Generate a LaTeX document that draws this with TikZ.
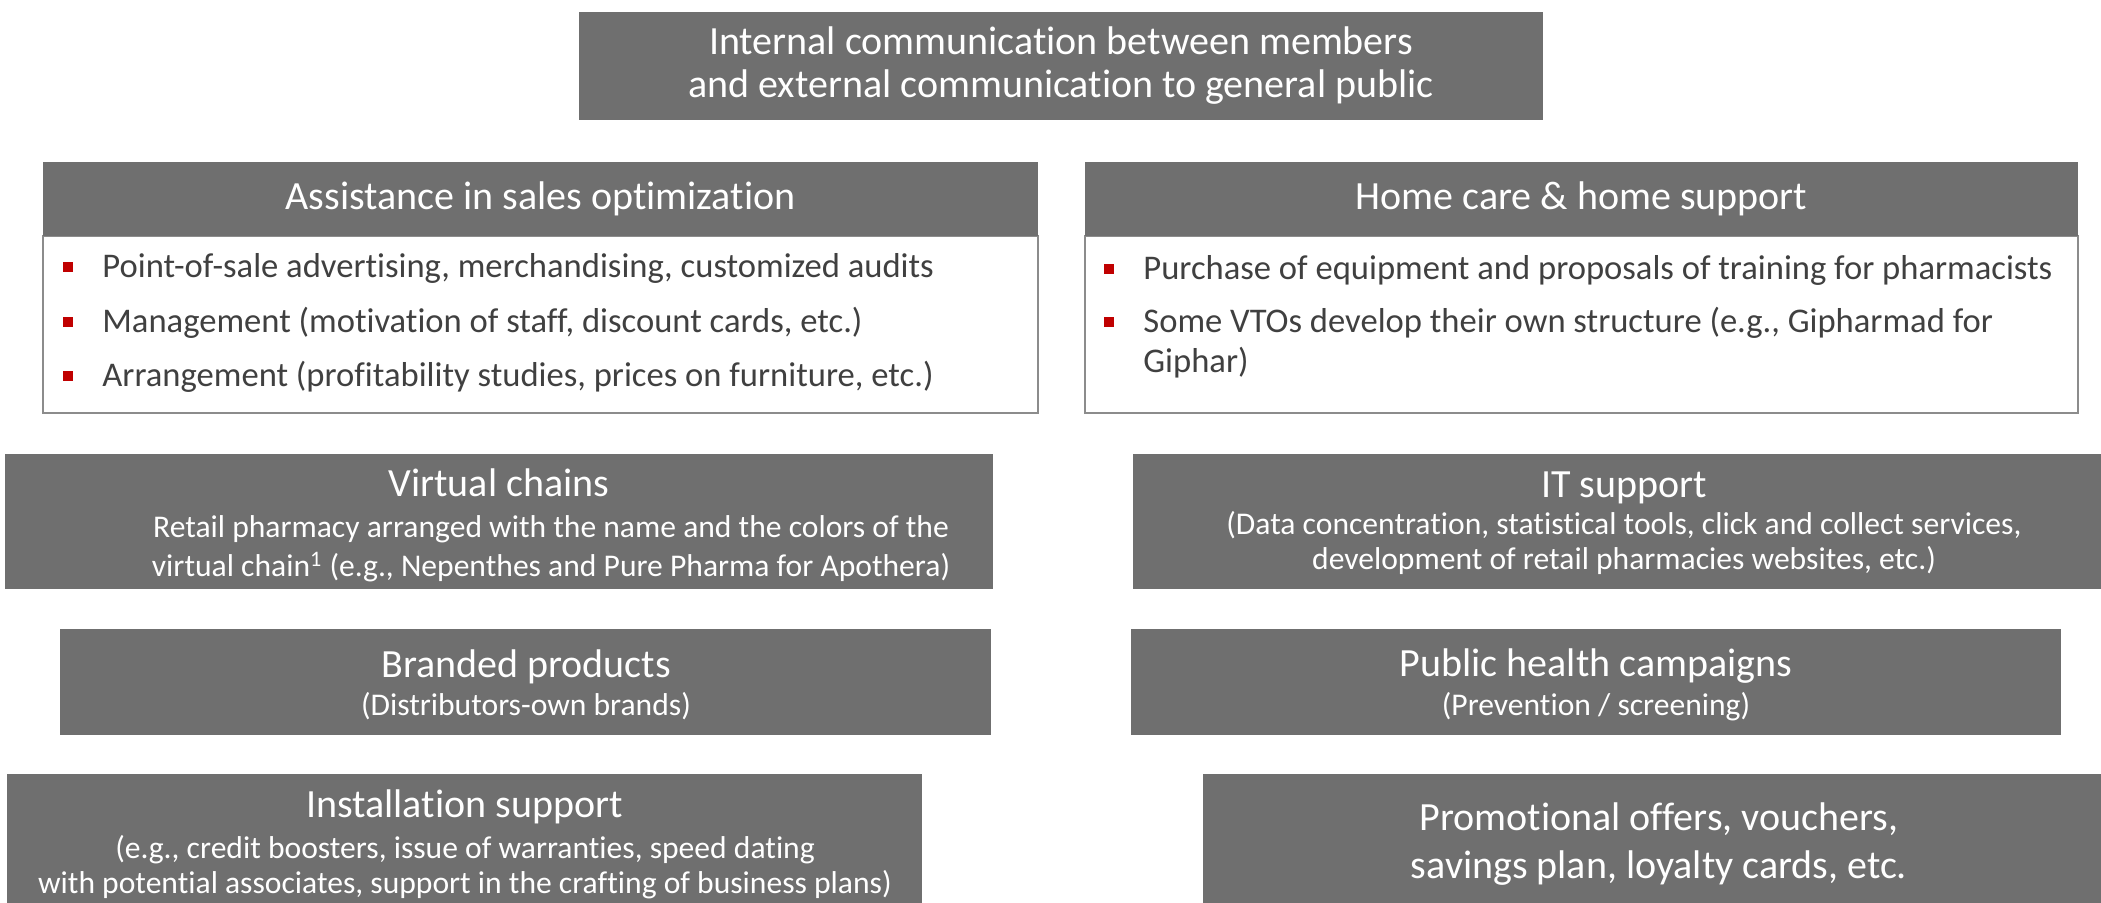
\documentclass[tikz,border=0pt]{standalone}
\usepackage{fontspec}
\setmainfont{Carlito}[Ligatures=NoCommon]
\usetikzlibrary{positioning,calc}
\definecolor{boxgray}{HTML}{6F6F6F}
\definecolor{bulletred}{HTML}{C00000}
\definecolor{bodytext}{HTML}{404040}
\definecolor{edgegray}{HTML}{8C8C8C}
\newcommand*{\fsz}[2]{\fontsize{#1}{#2}\selectfont}
\tikzset{
  darkbox/.style={fill=boxgray,inner sep=0pt},
  listbox/.style={draw=edgegray,line width=0.7pt,fill=white,inner sep=0pt},
  headtext/.style={text=white,font=\fsz{20}{21.5},anchor=base,inner sep=0pt,align=center},
  subtext/.style={text=white,anchor=base,inner sep=0pt,align=center,font=\fsz{15.8}{17.5}},
  itemtext/.style={text=bodytext,font=\fsz{17.3}{20},anchor=base west,inner sep=0pt,align=left},
}

\begin{document}
\begin{tikzpicture}[x=0.5pt,y=-0.5pt]
\useasboundingbox (0,0) rectangle (2101,903);

% communication (multi-line nodes sit on their last baseline)
\node[darkbox,minimum width=482pt,minimum height=54pt] (comm) at (1061,66) {};
\node[headtext] (commtext) at (1061,98) {Internal communication between members\\and external communication to general public};

% the two lists
\node[listbox,minimum width=497.5pt,minimum height=88.5pt] (sales) at (540.5,324.5) {};
\node[darkbox,minimum width=497.5pt,minimum height=37pt] (saleshead) at (540.5,199) {};
\node[headtext] (salestext) at (540.5,210) {Assistance in sales optimization};
\node[listbox,minimum width=496.5pt,minimum height=88.5pt] (home) at (1581.5,324.5) {};
\node[darkbox,minimum width=496.5pt,minimum height=37pt] (homehead) at (1581.5,199) {};
\node[headtext] (hometext) at (1581.5,210) {Home care \& home support};

\foreach \y/\txt [count=\i] in {278/{Point-of-sale advertising, merchandising, customized audits},
    333/{Management (motivation of staff, discount cards, etc.)},
    387/{Arrangement (profitability studies, prices on furniture, etc.)}}{
  \fill[bulletred] (63,\y-16) rectangle (73,\y-6);
  \node[itemtext] (salesitem\i) at (102,\y) {\txt};
}
\fill[bulletred] (1104,264) rectangle (1114,274);
\node[itemtext] (homeitem1) at (1143,280) {Purchase of equipment and proposals of training for pharmacists};
\fill[bulletred] (1104,317) rectangle (1114,327);
\node[itemtext] (homeitem2) at (1143,373) {Some VTOs develop their own structure (e.g., Gipharmad for\\Giphar)};

% left column
\node[darkbox,minimum width=494pt,minimum height=67.5pt] (chains) at (499,521.5) {};
\node[headtext] (chainstitle) at (499,497) {Virtual chains};
\node[subtext,font=\fsz{15.8}{19.5}] (chainssub) at (551,577) {Retail pharmacy arranged with the name and the colors of the\\virtual chain\textsuperscript{1} (e.g., Nepenthes and Pure Pharma for Apothera)};

\node[darkbox,minimum width=465.5pt,minimum height=53pt] (brands) at (525.5,682) {};
\node[headtext] (brandstitle) at (526,677) {Branded products};
\node[subtext] (brandssub) at (526,715) {(Distributors-own brands)};

\node[darkbox,minimum width=457.5pt,minimum height=64.5pt] (install) at (464.5,838.5) {};
\node[headtext] (installtitle) at (464.5,817) {Installation support};
\node[subtext] (installsub) at (465,893) {(e.g., credit boosters, issue of warranties, speed dating\\with potential associates, support in the crafting of business plans)};

% right column
\node[darkbox,minimum width=484pt,minimum height=67.5pt] (it) at (1617,521.5) {};
\node[headtext] (ittitle) at (1624,498) {IT support};
\node[subtext] (itsub) at (1624,570) {(Data concentration, statistical tools, click and collect services,\\development of retail pharmacies websites, etc.)};

\node[darkbox,minimum width=465pt,minimum height=53pt] (health) at (1596,682) {};
\node[headtext] (healthtitle) at (1596,676) {Public health campaigns};
\node[subtext] (healthsub) at (1596,715) {(Prevention / screening)};

\node[darkbox,minimum width=449pt,minimum height=64.5pt] (promo) at (1652,838.5) {};
\node[headtext,font=\fsz{20}{24}] (promotext) at (1659,878) {Promotional offers, vouchers,\\savings plan, loyalty cards, etc.};
\end{tikzpicture}
\end{document}
